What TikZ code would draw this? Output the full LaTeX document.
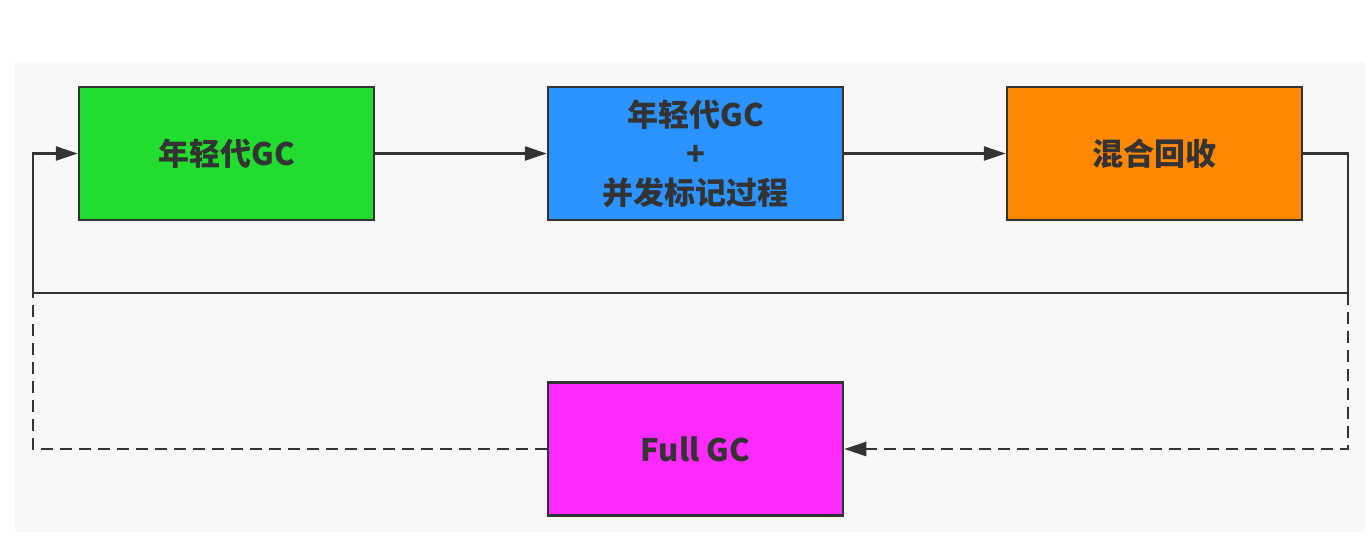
\documentclass[tikz,border=0pt]{standalone}
\usepackage{fontspec}
\usepackage{tikz}
\usetikzlibrary{arrows.meta}
\newfontfamily\cjk{Noto Sans CJK SC}
\definecolor{bgpanel}{HTML}{F7F8F7}
\definecolor{linegray}{HTML}{333333}
\definecolor{gcgreen}{HTML}{22DD2E}
\definecolor{gcblue}{HTML}{2A93FF}
\definecolor{gcorange}{HTML}{FF8800}
\definecolor{gcpink}{HTML}{FF2AFF}
\tikzset{
  phase/.style={draw=linegray, line width=2.5pt, minimum width=295pt, minimum height=133pt,
    inner sep=0pt, align=center, text=linegray, font=\cjk\bfseries\fontsize{31}{39}\selectfont},
  flow/.style={draw=linegray, line width=2.5pt},
  tip/.style={-{Triangle[length=22pt,width=14pt]}},
  dashline/.style={dash pattern=on 12pt off 7pt}
}
\begin{document}
\begin{tikzpicture}[x=1pt,y=-1pt]
\useasboundingbox (0,0) rectangle (1369,538);
\fill[white] (0,0) rectangle (1369,538);
\fill[bgpanel] (15,62) rectangle (1365,532);
\node[phase, fill=gcgreen] (young) at (226.5,153.5) {年轻代GC};
\node[phase, fill=gcblue] (mark) at (695.5,153.5) {\raisebox{-4pt}{年轻代GC}\\\raisebox{-4pt}{+}\\\raisebox{-4pt}{并发标记过程}};
\node[phase, fill=gcorange] (mixed) at (1154.5,153.5) {混合回收};
\node[phase, fill=gcpink] (full) at (695.5,449) {Full GC};
\coordinate (rdrop) at (1348,293);
\coordinate (ldrop) at (33,293);
\draw[flow, tip] (young.east) -- (mark.west);
\draw[flow, tip] (mark.east) -- (mixed.west);
\draw[flow, tip] (mixed.east) -| (rdrop) -- (ldrop) |- (young.west);
\draw[flow, tip, dashline] (rdrop) |- (full.east);
\draw[flow, dashline] (full.west) -| (ldrop);
\end{tikzpicture}
\end{document}
